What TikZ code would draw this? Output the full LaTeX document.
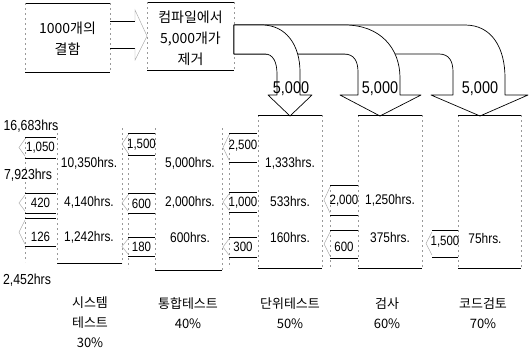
\documentclass[tikz,border=0pt]{standalone}
\usepackage{fontspec}
\setmainfont{Noto Sans CJK KR}
\newfontfamily\krf{Noto Sans CJK KR}
\newfontfamily\numf[FakeStretch=0.85]{Liberation Sans}
\begin{document}
\begin{tikzpicture}[x=1pt,y=-1pt,
  ln/.style={line width=0.7pt,black},
  fnt/.style={line width=0.45pt,black!35},
  fdash/.style={line width=0.5pt,black!40,dash pattern=on 2pt off 3pt},
  blk/.style={line width=0.7pt,black,fill=white,line join=round},
  hrsl/.style={font=\numf\fontsize{14}{14}\selectfont,inner sep=0pt},
  sml/.style={font=\numf\fontsize{13.5}{14}\selectfont,inner sep=0pt},
  bign/.style={font=\numf\fontsize{17}{17}\selectfont,inner sep=0pt},
  sidel/.style={font=\numf\fontsize{14.5}{15}\selectfont,inner sep=0pt},
  kor/.style={font=\krf\fontsize{14}{21}\selectfont,align=center,inner sep=0pt},
  capt/.style={font=\krf\fontsize{13}{20}\selectfont,align=center,inner sep=0pt},
  boxn/.style={inner sep=0pt,outer sep=0pt}]

\fill[white] (0,0) rectangle (529,357);
\useasboundingbox (0,0) rectangle (529,357);

% ---- top boxes
\node[boxn,minimum width=85pt,minimum height=69pt] (b1) at (67.5,37.5) {};
\node[kor] (b1t) at (67.5,39) {1000개의\\결함};
\draw[ln] (b1.north west) -- (b1.north east) (b1.south west) -- (b1.south east);
\draw[fdash] (b1.north west) -- (b1.south west) (b1.north east) -- (b1.south east);

\node[boxn,minimum width=87pt,minimum height=68pt] (b2) at (190.5,36) {};
\node[kor] (b2t) at (190.5,38) {컴파일에서\\5,000개가\\제거};
\draw[ln] (b2.north west) -- (b2.north east) (b2.south west) -- (b2.south east);
\draw[fdash] (b2.north west) -- (b2.south west) (b2.north east) -- (b2.south east);

% block arrow box1 -> box2
\draw[ln] (b1.east |- 0,21) -- (135,21) (b1.east |- 0,48) -- (135,48);
\draw[fnt] (135,21) -- (135,10) -- (b2.west) -- (135,60) -- (135,48);

% ---- curved block arrows
\draw[blk] (234,25) -- (465,25) .. controls (492,25) and (505,48) .. (505,78) -- (505,95) -- (528,95) -- (480,116) -- (431,95) -- (453,95) -- (453,72) .. controls (453,61) and (449,54) .. (439,54) -- (234,54) -- cycle;
\draw[blk] (234,25) -- (345,25) .. controls (380,25) and (400,48) .. (400,78) -- (400,95) -- (421,95) -- (380,116) -- (340,95) -- (358,95) -- (358,72) .. controls (358,61) and (354,54) .. (344,54) -- (234,54) -- cycle;
\draw[blk] (234,25) -- (262,25) .. controls (286,25) and (300,45) .. (300,72) -- (300,95) -- (312,95) -- (290,116) -- (268,95) -- (277,95) -- (277,74) .. controls (277,62) and (273,54) .. (265,54) -- (234,54) -- cycle;
\node[bign] (a1l) at (291,89) {5,000};
\node[bign] (a2l) at (380,89) {5,000};
\node[bign] (a3l) at (480,89) {5,000};

% ---- main boxes
\node[boxn,minimum width=65pt,minimum height=135pt] (m1) at (89.5,195.5) {};
\node[boxn,minimum width=67pt,minimum height=142pt] (m2) at (188.5,199) {};
\node[boxn,minimum width=64pt,minimum height=153pt] (m3) at (290,191.5) {};
\node[boxn,minimum width=64pt,minimum height=153pt] (m4) at (390,191.5) {};
\node[boxn,minimum width=63pt,minimum height=153pt] (m5) at (489.5,191.5) {};
\foreach \m in {m1,m2,m3,m4,m5}{
  \draw[ln] (\m.south west) -- (\m.south east);
  \draw[fdash] (\m.north west) -- (\m.south west) (\m.north east) -- (\m.south east);
}
\foreach \m in {m3,m4,m5}{
  \draw[ln] (\m.north west) -- (\m.north east);
}

% strip sides
\draw[fdash] (25,137) -- (25,262) (128,133) -- (128,268) (229,133) -- (229,268) (330,185) -- (330,268);

% ---- small left-pointing arrows
\foreach \xl/\xr/\yt/\yb/\ly/\t/\n in {
 25/56/137/158/148/{1,050}/s11, 25/56/193/213/203/{420}/s12, 25/56/218/246/237/{126}/s13,
 128/155/133/155/145/{1,500}/s21, 128/155/193/213/204/{600}/s22, 128/155/237/256/247/{180}/s23,
 229/257/133/162/146/{2,500}/s31, 229/257/192/212/203/{1,000}/s32, 229/257/237/257/247/{300}/s33,
 330/358/185/215/201/{2,000}/s41, 330/358/230/258/247/{600}/s42,
 432/458/230/257/242/{1,500}/s51}
{
 \draw[ln] (\xl,\yt) -- (\xr,\yt) (\xl,\yb) -- (\xr,\yb);
 \draw[fnt] (\xl,{\yt+2}) -- ({\xl-6},{(\yt+\yb)/2}) -- (\xl,{\yb-2});
 \node[sml] (\n) at ({(\xl+\xr)/2},\ly) {\t};
}

% ---- hours in main boxes
\node[hrsl] (h11) at (89,163) {10,350hrs.};
\node[hrsl] (h12) at (89,202) {4,140hrs.};
\node[hrsl] (h13) at (89,237) {1,242hrs.};
\node[hrsl] (h21) at (190,163) {5,000hrs.};
\node[hrsl] (h22) at (190,202) {2,000hrs.};
\node[hrsl] (h23) at (190,237) {600hrs.};
\node[hrsl] (h31) at (290,163) {1,333hrs.};
\node[hrsl] (h32) at (290,201) {533hrs.};
\node[hrsl] (h33) at (290,237) {160hrs.};
\node[hrsl] (h41) at (390,200) {1,250hrs.};
\node[hrsl] (h42) at (390,237) {375hrs.};
\node[hrsl] (h51) at (485,238) {75hrs.};

% ---- side totals
\node[sidel] (t1) at (31,126) {16,683hrs};
\node[sidel] (t2) at (28,175) {7,923hrs};
\node[sidel] (t3) at (27,280) {2,452hrs};

% ---- captions
\node[capt] (c1) at (90,322.5) {시스템\\테스트\\30\%};
\node[capt] (c2) at (188,313) {통합테스트\\40\%};
\node[capt] (c3) at (290,313) {단위테스트\\50\%};
\node[capt] (c4) at (387,313) {검사\\60\%};
\node[capt] (c5) at (483,313) {코드검토\\70\%};
\end{tikzpicture}
\end{document}
